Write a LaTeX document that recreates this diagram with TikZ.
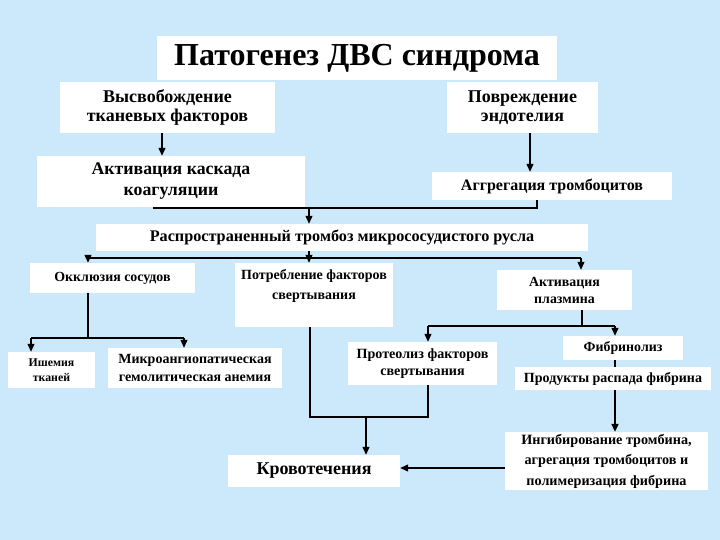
\documentclass[tikz,border=0pt]{standalone}
\usepackage{fontspec}
\setmainfont{Liberation Serif}
\usetikzlibrary{arrows.meta}
\definecolor{bg}{RGB}{203,233,251}
\tikzset{
  box/.style={fill=white, draw=none, inner sep=0pt, align=center, font=\bfseries},
  conn/.style={line width=1.2pt, black},
  arr/.style={conn, -{Triangle[length=8pt,width=7pt]}},
}
\begin{document}
\begin{tikzpicture}[x=1pt,y=-1pt]
\fill[bg] (0,0) rectangle (720,540);
\useasboundingbox (0,0) rectangle (720,540);

\node[box, minimum width=400, minimum height=44, font=\bfseries\fontsize{32}{34}\selectfont] (title) at (357,58) {Патогенез ДВС синдрома};
\node[box, minimum width=215, minimum height=51, font=\bfseries\fontsize{18}{19.5}\selectfont] (vys) at (167.5,107.5) {Высвобождение\\тканевых факторов};
\node[box, minimum width=151, minimum height=51, font=\bfseries\fontsize{18}{19.5}\selectfont] (pov) at (522.5,107.5) {Повреждение\\эндотелия};
\node[box, minimum width=268, minimum height=51, font=\bfseries\fontsize{17.8}{21}\selectfont] (akt) at (171,181.5) {Активация каскада\\коагуляции};
\node[box, minimum width=240, minimum height=28, font=\bfseries\fontsize{16}{18}\selectfont] (agg) at (552,186) {Аггрегация тромбоцитов};
\node[box, minimum width=492, minimum height=27, font=\bfseries\fontsize{16.2}{18}\selectfont] (ras) at (342,237.5) {Распространенный тромбоз микрососудистого русла};
\node[box, minimum width=165, minimum height=30, font=\bfseries\fontsize{13.9}{15}\selectfont] (okk) at (112.5,278) {Окклюзия сосудов};
\node[box, minimum width=158, minimum height=64] (potr) at (314,295) {};
\node[inner sep=0pt, align=center, font=\bfseries\fontsize{14}{20}\selectfont] (potrt) at (314,286) {Потребление факторов\\свертывания};
\node[box, minimum width=135, minimum height=40, font=\bfseries\fontsize{13.9}{17}\selectfont] (aktpl) at (564.5,290) {Активация\\плазмина};
\node[box, minimum width=87, minimum height=36, font=\bfseries\fontsize{11.8}{15}\selectfont] (ish) at (51.5,370) {Ишемия\\тканей};
\node[box, minimum width=174, minimum height=40, font=\bfseries\fontsize{14}{17.5}\selectfont] (mikro) at (195,368) {Микроангиопатическая\\гемолитическая анемия};
\node[box, minimum width=149, minimum height=43, font=\bfseries\fontsize{14.1}{17}\selectfont] (prot) at (422.5,363.5) {Протеолиз факторов\\свертывания};
\node[box, minimum width=120, minimum height=24, font=\bfseries\fontsize{13.9}{15}\selectfont] (fib) at (623,348) {Фибринолиз};
\node[box, minimum width=196, minimum height=23, font=\bfseries\fontsize{14}{15}\selectfont] (prod) at (613,378.5) {Продукты распада фибрина};
\node[box, minimum width=172, minimum height=32, font=\bfseries\fontsize{18}{19}\selectfont] (krov) at (314,471) {Кровотечения};
\node[box, minimum width=203, minimum height=58, font=\bfseries\fontsize{14.2}{20.5}\selectfont] (ingib) at (606.5,461) {Ингибирование тромбина,\\агрегация тромбоцитов и\\полимеризация фибрина};

% connectors
\draw[arr] ([xshift=-5.5]vys.south) -- ([xshift=-5.5]vys.south |- akt.north);
\draw[arr] ([xshift=7.5]pov.south) -- ([xshift=7.5]pov.south |- agg.north);

\coordinate (c1) at (153,208);
\coordinate (c2) at (537,208);
\coordinate (j1) at (309,208);
\draw[conn] (c1) -- (c2) -- (c2 |- agg.south);
\draw[arr] (j1) -- (j1 |- ras.north);

\coordinate (b1) at (88,258);
\coordinate (b3) at (581,258);
\draw[conn] (b1) -- (b3);
\draw[conn] (j1 |- ras.south) -- (j1 |- b1);
\draw[arr] (b1) -- (b1 |- okk.north);
\draw[arr] (j1 |- b1) -- (j1 |- potr.north);
\draw[arr] (b3) -- (b3 |- aktpl.north);

\coordinate (o0) at (31,338);
\coordinate (o1) at (88,338);
\coordinate (o2) at (184,338);
\draw[conn] (o1 |- okk.south) -- (o1);
\draw[conn] (o0) -- (o2);
\draw[arr] (o0) -- (o0 |- ish.north);
\draw[arr] (o2) -- (o2 |- mikro.north);

\coordinate (p1) at (310,417);
\coordinate (p2) at (428,417);
\coordinate (p3) at (366,417);
\draw[conn] (p1 |- potr.south) -- (p1) -- (p2) -- (p2 |- prot.south);
\draw[arr] (p3) -- (p3 |- krov.north);

\coordinate (a0) at (428,326);
\coordinate (a1) at (582,326);
\coordinate (a2) at (615,326);
\draw[conn] (a1 |- aktpl.south) -- (a1);
\draw[conn] (a0) -- (a2);
\draw[arr] (a0) -- (a0 |- prot.north);
\draw[arr] (a2) -- (a2 |- fib.north);

\draw[conn, line width=2pt] (a2 |- fib.south) -- (a2 |- prod.north);
\draw[arr, line width=2pt] (a2 |- prod.south) -- (a2 |- ingib.north);

\coordinate (k1) at (505,468);
\draw[arr] (k1) -- (k1 -| krov.east);
\end{tikzpicture}
\end{document}
